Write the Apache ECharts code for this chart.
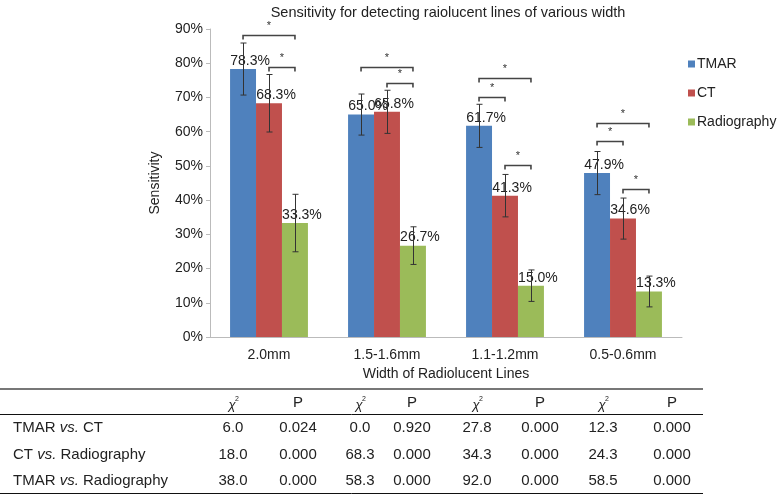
<!DOCTYPE html>
<html>
<head>
    <meta charset="utf-8">
    <title>Sensitivity</title>
    <script src="https://cdn.jsdelivr.net/npm/echarts@6/dist/echarts.min.js"></script>
    <style>
        html, body { margin: 0; padding: 0; background: #fff; }
        #chart1 { width: 780px; height: 496px; }
    </style>
</head>
<body>
<div id="chart1"></div>
<script type="text/javascript">
    // 数据
    var categories = ['2.0mm', '1.5-1.6mm', '1.1-1.2mm', '0.5-0.6mm'];
    var seriesNames = ['TMAR', 'CT', 'Radiography'];
    var colors = ['#4F81BD', '#C0504D', '#9BBB59'];
    var tmar = [78.3, 65.0, 61.7, 47.9];
    var ct = [68.3, 65.8, 41.3, 34.6];
    var radiography = [33.3, 26.7, 15.0, 13.3];
    // error (+/-)
    var tmarErr = [7.6, 6.0, 6.3, 6.3];
    var ctErr = [8.4, 6.3, 6.2, 6.0];
    var radErr = [8.4, 5.5, 4.6, 4.5];
    // brackets: [category, from bar, to bar, height %]
    var brackets = [
        [0, 0, 2, 88.3], [0, 1, 2, 79.0],
        [1, 0, 2, 79.0], [1, 1, 2, 74.3],
        [2, 0, 2, 75.7], [2, 0, 1, 70.2], [2, 1, 2, 50.3],
        [3, 0, 2, 62.6], [3, 0, 1, 57.3], [3, 1, 2, 43.3]
    ];
    // table
    var rowLabels = [['TMAR', 'CT'], ['CT', 'Radiography'], ['TMAR', 'Radiography']];
    var chiSquare = [
        ['6.0', '0.0', '27.8', '12.3'],
        ['18.0', '68.3', '34.3', '24.3'],
        ['38.0', '58.3', '92.0', '58.5']
    ];
    var pValues = [
        ['0.024', '0.920', '0.000', '0.000'],
        ['0.000', '0.000', '0.000', '0.000'],
        ['0.000', '0.000', '0.000', '0.000']
    ];

    var FONT = 'Liberation Sans, Arial, sans-serif';
    var values = [tmar, ct, radiography];
    var errs = [tmarErr, ctErr, radErr];

    var errData = [];
    for (var s = 0; s < 3; s++) {
        for (var c = 0; c < categories.length; c++) {
            errData.push([c, s, values[s][c] - errs[s][c], values[s][c] + errs[s][c]]);
        }
    }

    function barOffset(api, bar) {
        var band = api.size([1, 0])[0];
        return (bar - 1) * band * 0.22;
    }

    function renderErr(params, api) {
        var hi = api.coord([api.value(0), api.value(3)]);
        var lo = api.coord([api.value(0), api.value(2)]);
        var x = Math.round(hi[0] + barOffset(api, api.value(1))) + 0.5;
        var st = {stroke: '#333', lineWidth: 1};
        return {
            type: 'group',
            children: [
                {type: 'line', shape: {x1: x, y1: hi[1], x2: x, y2: lo[1]}, style: st},
                {type: 'line', shape: {x1: x - 3, y1: hi[1], x2: x + 3, y2: hi[1]}, style: st},
                {type: 'line', shape: {x1: x - 3, y1: lo[1], x2: x + 3, y2: lo[1]}, style: st}
            ]
        };
    }

    function renderBracket(params, api) {
        var p = api.coord([api.value(0), api.value(3)]);
        var x1 = p[0] + barOffset(api, api.value(1));
        var x2 = p[0] + barOffset(api, api.value(2));
        var y = Math.round(p[1]) + 0.5;
        return {
            type: 'group',
            children: [
                {
                    type: 'polyline',
                    shape: {points: [[x1, y + 4], [x1, y], [x2, y], [x2, y + 4]]},
                    style: {stroke: '#444', lineWidth: 1.6, fill: null}
                },
                {
                    type: 'text',
                    style: {
                        x: (x1 + x2) / 2, y: y - 4, text: '*', fill: '#333',
                        font: '11px ' + FONT, textAlign: 'center', textVerticalAlign: 'bottom'
                    }
                }
            ]
        };
    }

    // table graphics
    var tableEls = [];
    var colX = [233, 298, 360, 412, 477, 540, 603, 672];
    var rowY = [428, 455, 481];
    var tStyle = function (x, y, t, align, italic) {
        return {
            type: 'text', x: x, y: y,
            style: {
                text: t, fill: '#222', align: align || 'center', verticalAlign: 'middle',
                font: (italic ? 'italic ' : '') + '15px ' + FONT
            }
        };
    };
    tableEls.push({type: 'line', shape: {x1: 0, y1: 389, x2: 703, y2: 389}, style: {stroke: '#777', lineWidth: 2}});
    tableEls.push({type: 'line', shape: {x1: 0, y1: 414.5, x2: 703, y2: 414.5}, style: {stroke: '#111', lineWidth: 1}});
    tableEls.push({type: 'line', shape: {x1: 0, y1: 493.5, x2: 703, y2: 493.5}, style: {stroke: '#111', lineWidth: 1}});
    for (var g = 0; g < 4; g++) {
        tableEls.push({
            type: 'text', x: colX[g * 2] - 1, y: 405,
            style: {text: 'χ', fill: '#222', align: 'center', verticalAlign: 'middle', font: 'italic 13px ' + FONT}
        });
        tableEls.push({
            type: 'text', x: colX[g * 2] + 4, y: 399,
            style: {text: '2', fill: '#222', align: 'center', verticalAlign: 'middle', font: '7px ' + FONT}
        });
        tableEls.push(tStyle(colX[g * 2 + 1], 403, 'P'));
    }
    for (var r = 0; r < rowLabels.length; r++) {
        tableEls.push({
            type: 'text', x: 13, y: rowY[r],
            style: {
                text: '{n|' + rowLabels[r][0] + ' }{i|vs.}{n| ' + rowLabels[r][1] + '}',
                verticalAlign: 'middle',
                rich: {
                    n: {font: '15px ' + FONT, fill: '#222'},
                    i: {font: 'italic 15px ' + FONT, fill: '#222'}
                }
            }
        });
        for (var k = 0; k < 4; k++) {
            tableEls.push(tStyle(colX[k * 2], rowY[r], chiSquare[r][k]));
            tableEls.push(tStyle(colX[k * 2 + 1], rowY[r], pValues[r][k]));
        }
    }

    var series = [];
    for (var i = 0; i < 3; i++) {
        series.push({
            name: seriesNames[i],
            type: 'bar',
            data: values[i],
            barGap: '0%',
            barCategoryGap: '34%',
            itemStyle: {color: colors[i]},
            label: {
                show: true, position: 'top', distance: 1, offset: [7, 0],
                fontSize: 14, color: '#222', fontFamily: FONT,
                formatter: function (p) { return p.value.toFixed(1) + '%'; }
            }
        });
    }
    series.push({
        type: 'custom', name: 'err', renderItem: renderErr, data: errData,
        encode: {x: 0, y: [2, 3]}, z: 5, silent: true
    });
    series.push({
        type: 'custom', name: 'sig', renderItem: renderBracket, data: brackets,
        encode: {x: 0, y: 3}, z: 5, silent: true
    });

    var myChart1 = echarts.init(document.getElementById('chart1'));
    myChart1.setOption({
        animation: false,
        textStyle: {fontFamily: FONT},
        title: {
            text: 'Sensitivity for detecting raiolucent lines of various width',
            left: 448, top: 5, padding: 0, textAlign: 'center',
            textStyle: {fontSize: 14.5, fontWeight: 'normal', color: '#222', fontFamily: FONT}
        },
        legend: {
            data: seriesNames,
            orient: 'vertical',
            left: 688, top: 57, padding: 0,
            itemWidth: 7, itemHeight: 7, itemGap: 15,
            icon: 'rect',
            textStyle: {fontSize: 14, color: '#222', padding: [0, 0, 0, -3]}
        },
        grid: {left: 210, right: 98, top: 29, bottom: 159},
        xAxis: {
            type: 'category',
            data: categories,
            name: 'Width of Radiolucent Lines',
            nameLocation: 'middle',
            nameGap: 29,
            nameTextStyle: {fontSize: 14, color: '#222'},
            axisLine: {lineStyle: {color: '#bbb'}},
            axisTick: {length: 5, lineStyle: {color: '#bbb'}},
            axisLabel: {fontSize: 14, color: '#222', margin: 11}
        },
        yAxis: {
            type: 'value',
            min: 0, max: 90, interval: 10,
            name: 'Sensitivity',
            nameLocation: 'middle',
            nameGap: 48,
            nameRotate: 90,
            nameTextStyle: {fontSize: 14, color: '#222'},
            axisLine: {show: true, lineStyle: {color: '#bbb'}},
            axisTick: {show: true, length: 4, lineStyle: {color: '#bbb'}},
            splitLine: {show: false},
            axisLabel: {fontSize: 14, color: '#222', margin: 7, formatter: '{value}%'}
        },
        graphic: tableEls,
        series: series
    });
</script>
</body>
</html>
